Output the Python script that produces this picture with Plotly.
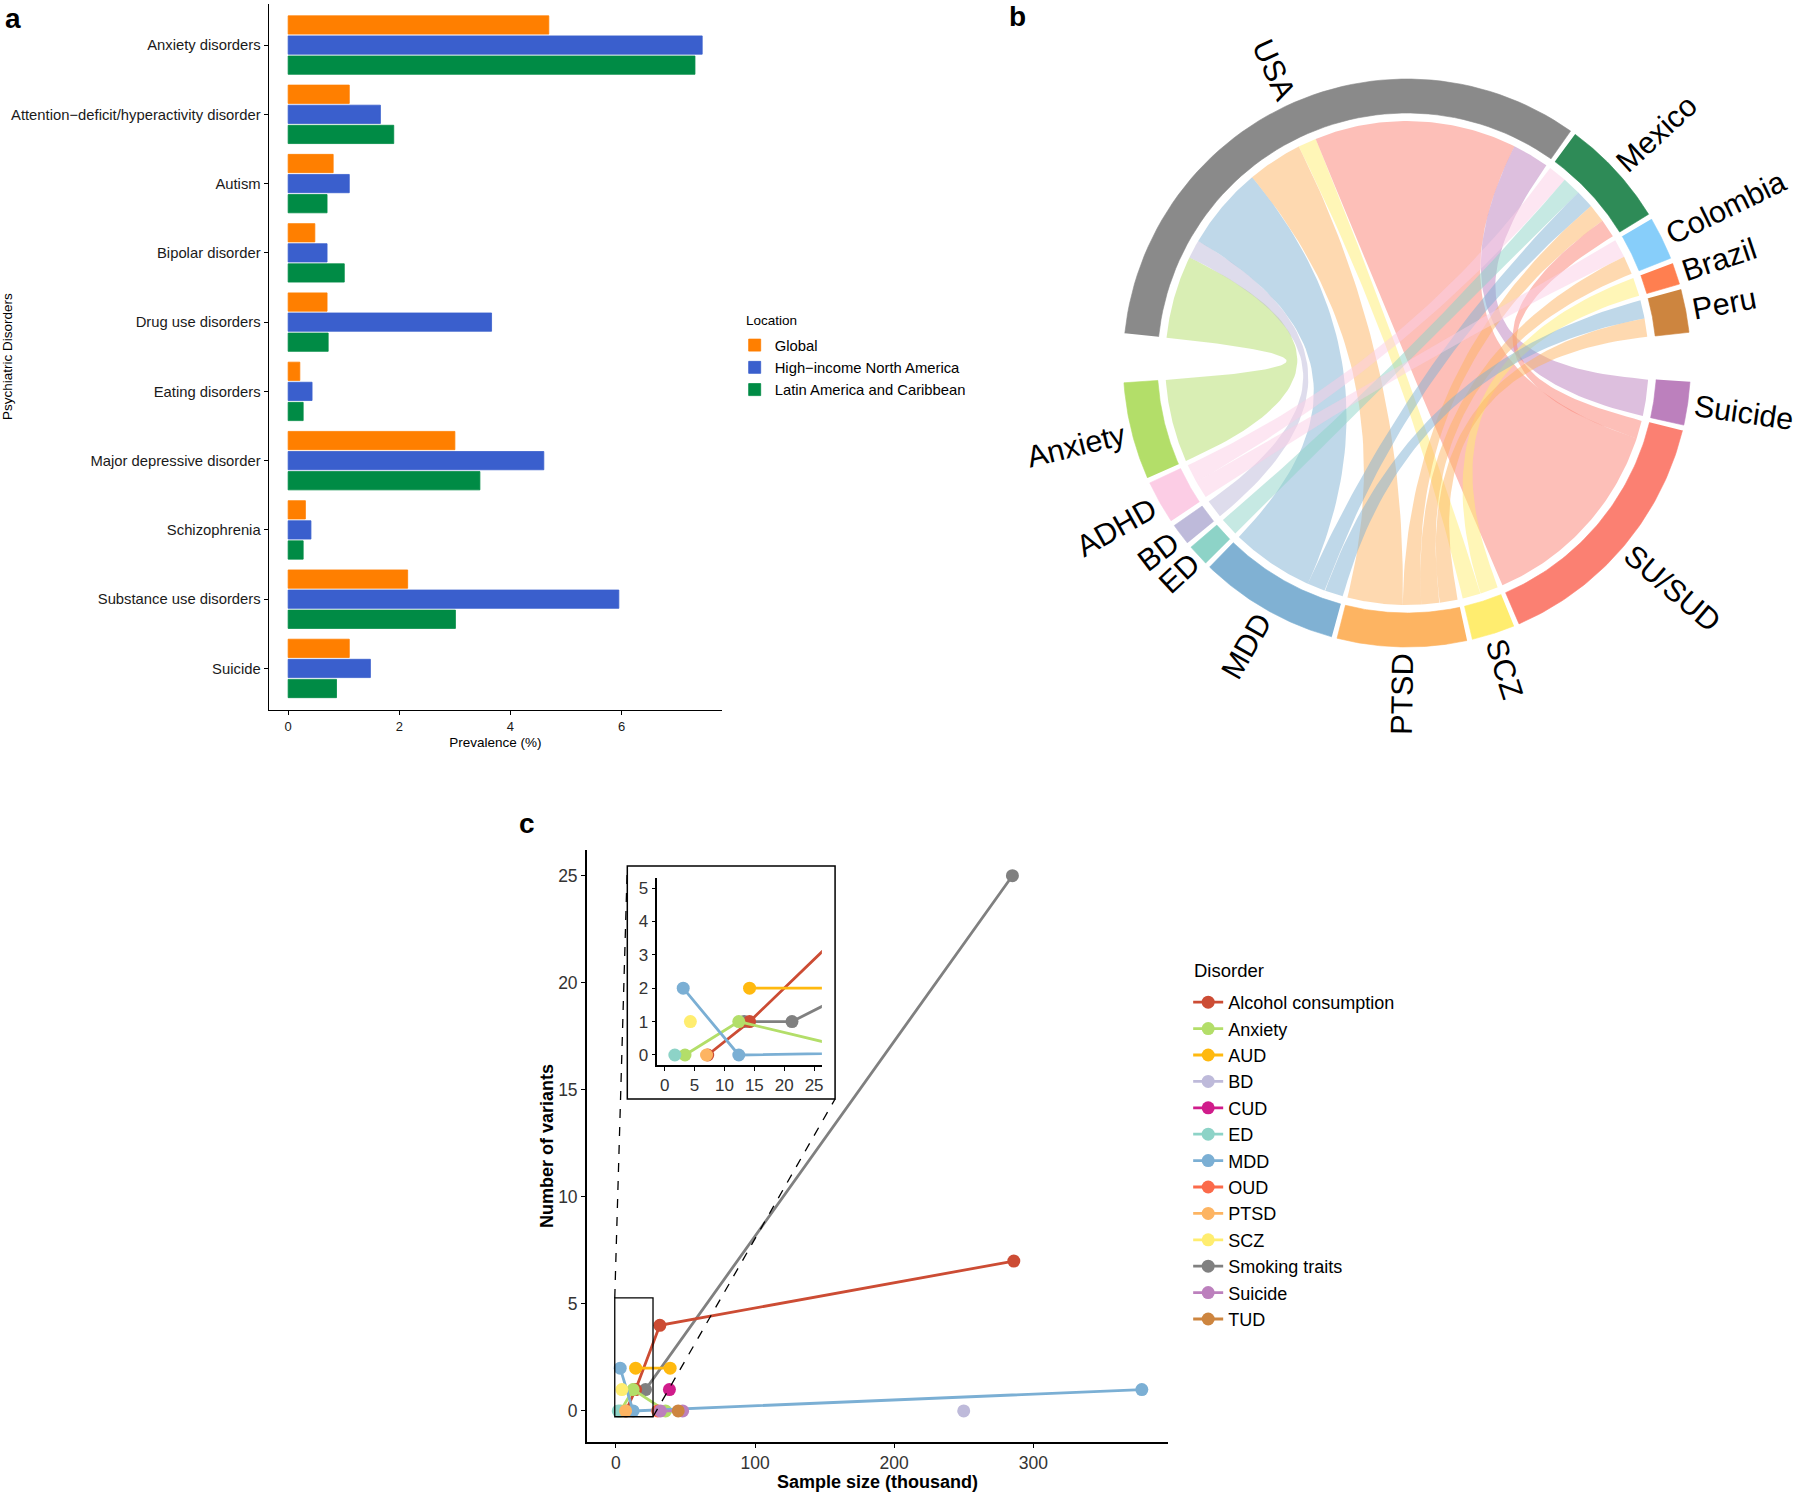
import numpy as np
import plotly.graph_objects as go

W, H = 1800, 1492
FONT = "Liberation Sans, Arial, Helvetica, sans-serif"

# ---------------- Panel a data ----------------
a_categories = ["Anxiety disorders", "Attention\u2212deficit/hyperactivity disorder", "Autism",
                "Bipolar disorder", "Drug use disorders", "Eating disorders",
                "Major depressive disorder", "Schizophrenia", "Substance use disorders", "Suicide"]
a_locations = ["Global", "High\u2212income North America", "Latin America and Caribbean"]
a_global = [4.69, 1.10, 0.81, 0.48, 0.70, 0.21, 3.00, 0.31, 2.15, 1.10]
a_hina = [7.45, 1.66, 1.10, 0.70, 3.66, 0.43, 4.60, 0.41, 5.95, 1.48]
a_lac = [7.32, 1.90, 0.70, 1.01, 0.72, 0.27, 3.45, 0.27, 3.01, 0.87]
a_colors = ["#FF7F00", "#3A5FCD", "#008B45"]

# ---------------- Panel b data ----------------
b_countries = ["USA", "Mexico", "Colombia", "Brazil", "Peru"]
b_country_colors = ["#8A8A8A", "#2E8B57", "#87CEFA", "#FF7F50", "#CD853F"]
b_disorders = ["Suicide", "SU/SUD", "SCZ", "PTSD", "MDD", "ED", "BD", "ADHD", "Anxiety"]
b_disorder_colors = ["#BC80BD", "#FB8072", "#FFED6F", "#FDB462", "#80B1D3",
                     "#8DD3C7", "#BEBADA", "#FCCDE5", "#B3DE69"]
links_usa = [4, 22, 2, 6, 9, 0, 2, 0, 9]
links_mexico = [0, 2, 0, 2, 2, 2, 0, 2, 0]
links_colombia = [0, 0, 0, 2, 0, 0, 0, 2, 0]
links_brazil = [0, 0, 2, 0, 0, 0, 0, 0, 0]
links_peru = [0, 0, 0, 2, 2, 0, 0, 0, 0]

# ---------------- Panel c data ----------------
c_names = ["Alcohol consumption", "Anxiety", "AUD", "BD", "CUD", "ED", "MDD", "OUD",
           "PTSD", "SCZ", "Smoking traits", "Suicide", "TUD"]
c_colors = ["#CC4C34", "#B3DE69", "#FFB90F", "#BEBADA", "#D01C8B", "#8DD3C7", "#7BAFD4",
            "#FB6A4A", "#FDB462", "#FFED6F", "#808080", "#BC80BD", "#CD853F"]
alcohol_x = [7.2, 14.2, 31.6, 286]
alcohol_y = [0, 1, 4, 7]
anxiety_x = [3.4, 12.4, 35.7]
anxiety_y = [0, 1, 0]
aud_x = [14.2, 39]
aud_y = [2, 2]
bd_x = [250]
bd_y = [0]
cud_x = [38.5]
cud_y = [1]
ed_x = [1.7]
ed_y = [0]
mdd_x = [3.1, 12.4, 378]
mdd_y = [2, 0, 1]
oud_x = [30]
oud_y = [0]
ptsd_x = [7.0]
ptsd_y = [0]
scz_x = [4.3]
scz_y = [1]
smoking_x = [13.3, 21.3, 285]
smoking_y = [1, 1, 25]
suicide_x = [32, 48]
suicide_y = [0, 0]
tud_x = [44.8]
tud_y = [0]
c_x = [alcohol_x, anxiety_x, aud_x, bd_x, cud_x, ed_x, mdd_x, oud_x, ptsd_x, scz_x,
       smoking_x, suicide_x, tud_x]
c_y = [alcohol_y, anxiety_y, aud_y, bd_y, cud_y, ed_y, mdd_y, oud_y, ptsd_y, scz_y,
       smoking_y, suicide_y, tud_y]


def hex_rgba(h, a):
    h = h.lstrip("#")
    return "rgba(%d,%d,%d,%.3f)" % (int(h[0:2], 16), int(h[2:4], 16), int(h[4:6], 16), a)


fig = go.Figure()

# ================= Panel a =================
for name, vals, col in zip(a_locations, [a_global, a_hina, a_lac], a_colors):
    fig.add_trace(go.Bar(
        y=a_categories, x=vals, orientation="h", name=name,
        marker=dict(color=col, line=dict(color=col, width=0.8)),
        xaxis="x", yaxis="y", legend="legend", legendgroup=name, hoverinfo="skip"))

# ================= Panel b (chord diagram) =================
M = np.array([links_usa, links_mexico, links_colombia, links_brazil, links_peru], float)
nc, nd = M.shape
row_tot = M.sum(1)
col_tot = M.sum(0)
BIG, SMALL = 10.0, 1.1
unit = (360.0 - 2 * BIG - (nc + nd - 2) * SMALL) / (2 * M.sum())
R_OUT, R_IN, R_CH = 284.0, 250.0, 242.0
CX, CY = 1408.5, 363.0

sect = {}
ang = 174.0
for i in range(nc):
    s = row_tot[i] * unit
    sect[("c", i)] = (ang, ang - s)
    ang -= s + (SMALL if i < nc - 1 else BIG)
for j in range(nd):
    s = col_tot[j] * unit
    sect[("d", j)] = (ang, ang - s)
    ang -= s + (SMALL if j < nd - 1 else BIG)

c_pos = {}
for i in range(nc):
    a = sect[("c", i)][0]
    for j in reversed(range(nd)):
        w = M[i, j] * unit
        if w > 0:
            c_pos[(i, j)] = (a, a - w)
            a -= w
d_pos = {}
for j in range(nd):
    a = sect[("d", j)][0]
    for i in reversed(range(nc)):
        w = M[i, j] * unit
        if w > 0:
            d_pos[(i, j)] = (a, a - w)
            a -= w


def arc(r, a0, a1, n=60):
    t = np.radians(np.linspace(a0, a1, n))
    return list(r * np.cos(t)), list(r * np.sin(t))


def bez(a0, a1, r, n=60):
    p0 = np.array([r * np.cos(np.radians(a0)), r * np.sin(np.radians(a0))])
    p2 = np.array([r * np.cos(np.radians(a1)), r * np.sin(np.radians(a1))])
    t = np.linspace(0, 1, n)[:, None]
    pts = (1 - t) ** 2 * p0 + t ** 2 * p2
    return list(pts[:, 0]), list(pts[:, 1])


# chords
for (i, j), (ca0, ca1) in c_pos.items():
    da0, da1 = d_pos[(i, j)]
    xs, ys = [], []
    for seg in (arc(R_CH, ca0, ca1), bez(ca1, da0, R_CH), arc(R_CH, da0, da1), bez(da1, ca0, R_CH)):
        xs += seg[0]
        ys += seg[1]
    fig.add_trace(go.Scatter(x=xs, y=ys, mode="lines", fill="toself",
                             fillcolor=hex_rgba(b_disorder_colors[j], 0.5),
                             line=dict(width=0), xaxis="x2", yaxis="y2",
                             showlegend=False, hoverinfo="skip"))

# ring sectors
ring_list = [(("c", i), b_countries[i], b_country_colors[i]) for i in range(nc)] + \
            [(("d", j), b_disorders[j], b_disorder_colors[j]) for j in range(nd)]
for key, name, col in ring_list:
    a0, a1 = sect[key]
    ox, oy = arc(R_OUT, a0, a1)
    ix, iy = arc(R_IN, a1, a0)
    fig.add_trace(go.Scatter(x=ox + ix, y=oy + iy, mode="lines", fill="toself",
                             fillcolor=col, line=dict(width=0.6, color=col),
                             xaxis="x2", yaxis="y2", showlegend=False, hoverinfo="skip"))

# labels
CW = {"A": .667, "B": .667, "C": .722, "D": .722, "H": .722, "M": .833, "P": .667, "S": .667,
      "T": .611, "U": .722, "Z": .611, "a": .556, "b": .556, "c": .5, "d": .556, "e": .556,
      "i": .222, "l": .222, "m": .833, "n": .556, "o": .556, "r": .333, "t": .278, "u": .556,
      "x": .5, "y": .5, "z": .5, "/": .278}
LFS = 30.5
annotations = []
for key, name, col in ring_list:
    a0, a1 = sect[key]
    mid = (a0 + a1) / 2.0
    L = sum(CW.get(ch, .556) for ch in name) * LFS
    rc = R_OUT + 7 + L / 2
    th = np.radians(mid)
    phi = mid if np.cos(th) > 0.05 else mid + 180
    annotations.append(dict(x=rc * np.cos(th), y=rc * np.sin(th), xref="x2", yref="y2",
                            text=name, showarrow=False, textangle=-phi,
                            font=dict(size=LFS, color="black", family=FONT),
                            xanchor="center", yanchor="middle"))

# ================= Panel c =================
C_X0, C_X1, C_Y0, C_Y1 = 588.0, 1169.0, 850.0, 1442.0
c_xrange = [-20.5, 396.6]
c_yrange = [-1.45, 26.2]
I_X0, I_X1, I_Y0, I_Y1 = 658.0, 822.8, 878.0, 1065.0
i_xrange = [-1.24, 26.3]
i_yrange = [-0.3, 5.3]

draw_order = [10, 0, 1, 2, 3, 4, 5, 6, 7, 8, 9, 11, 12]
for k in draw_order:
    fig.add_trace(go.Scatter(
        x=c_x[k], y=c_y[k], mode="lines+markers", name=c_names[k],
        line=dict(color=c_colors[k], width=2.8), marker=dict(color=c_colors[k], size=13),
        xaxis="x3", yaxis="y3", legend="legend2", legendgroup=c_names[k],
        legendrank=k + 1, hoverinfo="skip"))
for k in draw_order:
    fig.add_trace(go.Scatter(
        x=c_x[k], y=c_y[k], mode="lines+markers", name=c_names[k],
        line=dict(color=c_colors[k], width=2.8), marker=dict(color=c_colors[k], size=13),
        xaxis="x4", yaxis="y4", showlegend=False, hoverinfo="skip"))


def cpx(x):
    return C_X0 + (x - c_xrange[0]) / (c_xrange[1] - c_xrange[0]) * (C_X1 - C_X0)


def cpy(y):
    return C_Y1 - (y - c_yrange[0]) / (c_yrange[1] - c_yrange[0]) * (C_Y1 - C_Y0)


zoom_box_x = [-0.8, 26.7]
zoom_box_y = [-0.27, 5.28]
INSET_FRAME = (628.0, 866.0, 836.0, 1099.0)

shapes = []
shapes.append(dict(type="rect", xref="paper", yref="paper",
                   x0=INSET_FRAME[0] / W, x1=INSET_FRAME[2] / W,
                   y0=1 - INSET_FRAME[3] / H, y1=1 - INSET_FRAME[1] / H,
                   line=dict(color="black", width=1.5), fillcolor="white", layer="below"))
shapes.append(dict(type="rect", xref="x3", yref="y3", x0=zoom_box_x[0], x1=zoom_box_x[1],
                   y0=zoom_box_y[0], y1=zoom_box_y[1], line=dict(color="black", width=1.3),
                   layer="above"))
shapes.append(dict(type="line", xref="paper", yref="paper",
                   x0=cpx(zoom_box_x[0]) / W, y0=1 - cpy(zoom_box_y[1]) / H,
                   x1=INSET_FRAME[0] / W, y1=1 - INSET_FRAME[1] / H,
                   line=dict(color="black", width=1.3, dash="dash")))
shapes.append(dict(type="line", xref="paper", yref="paper",
                   x0=cpx(zoom_box_x[1]) / W, y0=1 - cpy(zoom_box_y[0]) / H,
                   x1=INSET_FRAME[2] / W, y1=1 - INSET_FRAME[3] / H,
                   line=dict(color="black", width=1.3, dash="dash")))

# panel letters and extra text
for txt, x, y in [("a", 13, 18), ("b", 1019, 16), ("c", 528, 823)]:
    annotations.append(dict(x=x / W, y=1 - y / H, xref="paper", yref="paper", text="<b>%s</b>" % txt,
                            showarrow=False, font=dict(size=28, color="black", family=FONT),
                            xanchor="center", yanchor="middle"))
annotations.append(dict(x=8 / W, y=1 - 356 / H, xref="paper", yref="paper",
                        text="Psychiatric Disorders", textangle=-90, showarrow=False,
                        font=dict(size=13.5, color="black", family=FONT),
                        xanchor="center", yanchor="middle"))
annotations.append(dict(x=745 / W, y=1 - 320 / H, xref="paper", yref="paper",
                        text="Location", showarrow=False,
                        font=dict(size=13.5, color="black", family=FONT),
                        xanchor="left", yanchor="middle"))
annotations.append(dict(x=1193 / W, y=1 - 970 / H, xref="paper", yref="paper",
                        text="Disorder", showarrow=False,
                        font=dict(size=18.5, color="black", family=FONT),
                        xanchor="left", yanchor="middle"))

axis_common = dict(showgrid=False, zeroline=False, showline=True, linecolor="black",
                   ticks="outside", tickcolor="black")

fig.update_layout(
    width=W, height=H, margin=dict(l=0, r=0, t=0, b=0),
    paper_bgcolor="white", plot_bgcolor="rgba(0,0,0,0)",
    font=dict(family=FONT, color="black"),
    barmode="group", bargap=0.13, bargroupgap=0.09,
    xaxis=dict(domain=[269 / W, 723 / W], range=[-0.35, 7.81], tickvals=[0, 2, 4, 6],
               ticklen=4, linewidth=1.2, tickwidth=1.1, anchor="y",
               tickfont=dict(size=13, color="#1a1a1a"),
               title=dict(text="Prevalence (%)", font=dict(size=13.5), standoff=4), **axis_common),
    yaxis=dict(domain=[1 - 710 / H, 1 - 3.5 / H], type="category", categoryorder="array",
               categoryarray=a_categories, range=[9.6, -0.6], ticklen=4, linewidth=1.2,
               tickwidth=1.1, anchor="x", tickfont=dict(size=14.8, color="#1a1a1a"), **axis_common),
    xaxis2=dict(domain=[1000 / W, 1.0], range=[1000 - CX, 1800 - CX], visible=False, anchor="y2"),
    yaxis2=dict(domain=[1 - 700 / H, 1.0], range=[CY - 700, CY], visible=False, anchor="x2"),
    xaxis3=dict(domain=[C_X0 / W, C_X1 / W], range=c_xrange, tickvals=[0, 100, 200, 300],
                ticklen=4.5, linewidth=1.5, tickwidth=1.3, anchor="y3",
                tickfont=dict(size=17.5, color="#333333"),
                title=dict(text="<b>Sample size (thousand)</b>", font=dict(size=18), standoff=6),
                **axis_common),
    yaxis3=dict(domain=[1 - C_Y1 / H, 1 - C_Y0 / H], range=c_yrange, tickvals=[0, 5, 10, 15, 20, 25],
                ticklen=4.5, linewidth=1.5, tickwidth=1.3, anchor="x3",
                tickfont=dict(size=17.5, color="#333333"),
                title=dict(text="<b>Number of variants</b>", font=dict(size=18), standoff=0),
                **axis_common),
    xaxis4=dict(domain=[I_X0 / W, I_X1 / W], range=i_xrange, tickvals=[0, 5, 10, 15, 20, 25],
                ticklen=4, linewidth=1.5, tickwidth=1.2, anchor="y4",
                tickfont=dict(size=17, color="#333333"), **axis_common),
    yaxis4=dict(domain=[1 - I_Y1 / H, 1 - I_Y0 / H], range=i_yrange, tickvals=[0, 1, 2, 3, 4, 5],
                ticklen=4, linewidth=1.5, tickwidth=1.2, anchor="x4",
                tickfont=dict(size=17, color="#333333"), **axis_common),
    legend=dict(x=735.5 / W, y=1 - 329 / H, xanchor="left", yanchor="top",
                font=dict(size=14.8), bgcolor="rgba(0,0,0,0)", tracegroupgap=0, itemwidth=30),
    legend2=dict(x=1189.5 / W, y=1 - 984 / H, xanchor="left", yanchor="top",
                 font=dict(size=18), bgcolor="rgba(0,0,0,0)", tracegroupgap=0, itemwidth=30),
    annotations=annotations, shapes=shapes, showlegend=True,
)

fig.write_html("out.html", config={"displayModeBar": False},
               post_script="document.body.style.margin='0px';document.body.style.padding='0px';")
